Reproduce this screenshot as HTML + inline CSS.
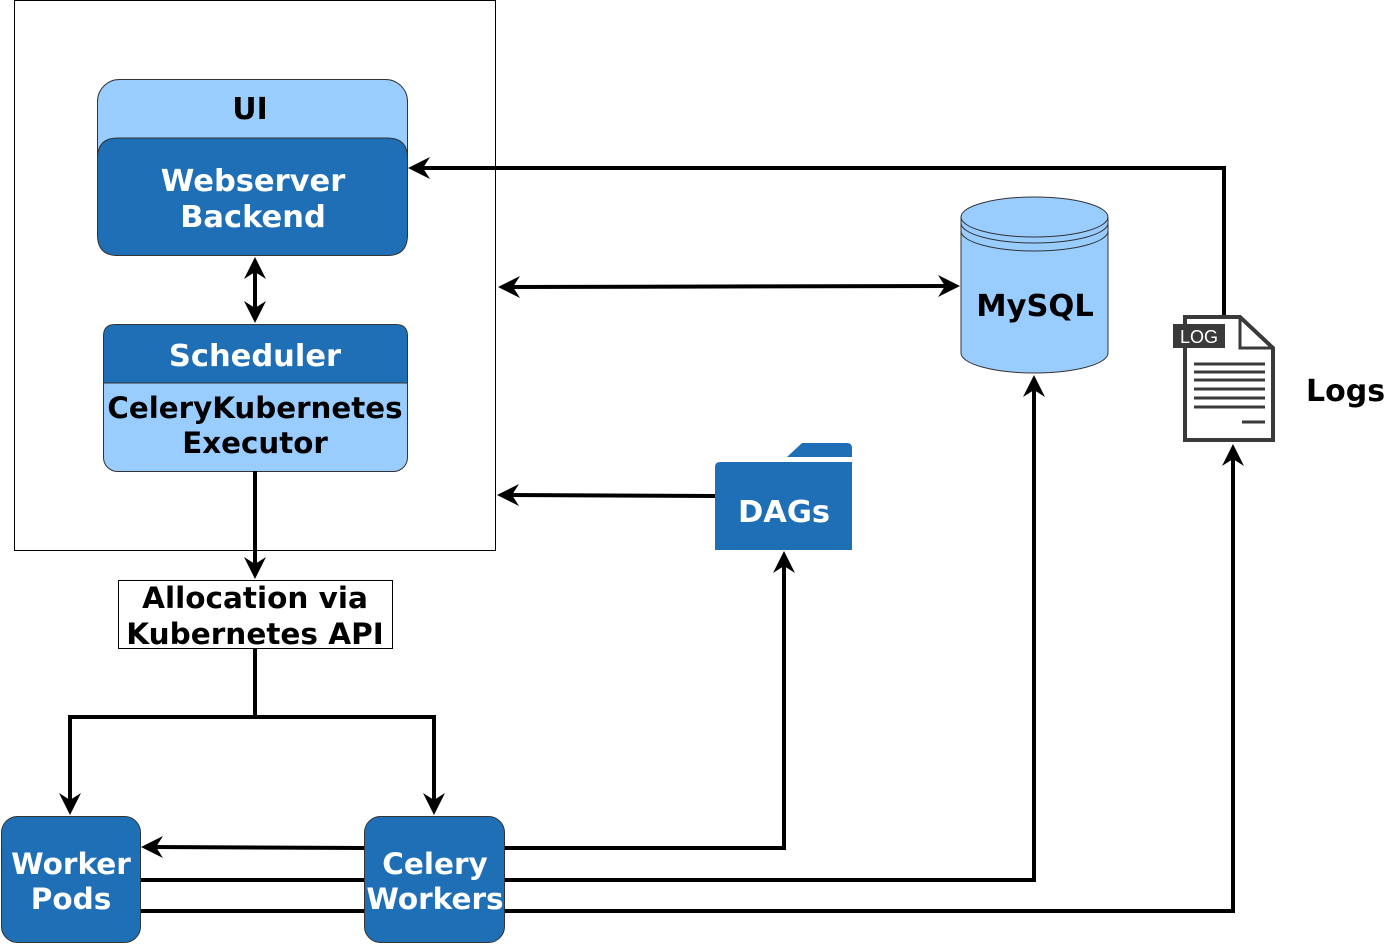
<!DOCTYPE html>
<html><head><meta charset="utf-8"><style>
html,body{margin:0;padding:0;background:#fff;}
svg{display:block;}
text{font-family:"DejaVu Sans","Liberation Sans",sans-serif;font-weight:bold;}
</style></head><body>
<svg width="1400" height="945" viewBox="0 0 1400 945" xmlns="http://www.w3.org/2000/svg">
<!-- outer box -->
<rect x="14.5" y="0.5" width="481" height="550" fill="#fff" stroke="#000" stroke-width="1"/>
<!-- UI -->
<rect x="97.5" y="79.5" width="310" height="176" rx="22" fill="#99ccff" stroke="#333" stroke-width="1"/>
<path d="M97.5 158 Q97.5 138 117.5 138 L387.5 138 Q407.5 138 407.5 158 L407.5 235 Q407.5 255.5 387.5 255.5 L117.5 255.5 Q97.5 255.5 97.5 235 Z" fill="#1f6fb6" stroke="#333" stroke-width="1"/>
<text x="250" y="119" font-size="30" text-anchor="middle" fill="#000">UI</text>
<text x="253" y="191" font-size="30.5" text-anchor="middle" fill="#fff">Webserver</text>
<text x="253" y="227" font-size="30.5" text-anchor="middle" fill="#fff">Backend</text>
<!-- Scheduler -->
<rect x="103.5" y="324.5" width="304" height="147" rx="14" fill="#99ccff" stroke="#333" stroke-width="1"/>
<path d="M103.5 383 L103.5 336 Q103.5 324.5 115 324.5 L396 324.5 Q407.5 324.5 407.5 336 L407.5 383 Z" fill="#1f6fb6" stroke="#333" stroke-width="1"/>
<text x="255" y="366" font-size="30.5" text-anchor="middle" fill="#fff">Scheduler</text>
<text x="255" y="418" font-size="29.3" text-anchor="middle" fill="#000">CeleryKubernetes</text>
<text x="255" y="453" font-size="29.3" text-anchor="middle" fill="#000">Executor</text>
<!-- lines -->
<g stroke="#000" stroke-width="4" fill="none">
<line x1="255" y1="266" x2="255" y2="314"/>
<line x1="255" y1="471" x2="255" y2="568"/>
<line x1="255" y1="648" x2="255" y2="717"/>
<polyline points="70,805 70,717 434,717 434,805"/>
<line x1="508" y1="287" x2="950" y2="286"/>
<line x1="715" y1="496" x2="507" y2="495"/>
<polyline points="1224,315 1224,168 418,168"/>
<line x1="364" y1="848" x2="152" y2="847"/>
<polyline points="504,848 784,848 784,561"/>
<polyline points="140,880 1034,880 1034,385"/>
<polyline points="140,911 1233,911 1233,454"/>
</g>
<!-- arrowheads -->
<g fill="#000">
<polygon points="255,257 244,279 255,272 266,279"/>
<polygon points="255,323 244,301 255,308 266,301"/>
<polygon points="255,579 244,557 255,564 266,557"/>
<polygon points="70,815 59,793 70,800 81,793"/>
<polygon points="434,815 423,793 434,800 445,793"/>
<polygon points="498,287 520,276 513,287 520,298"/>
<polygon points="960,286 938,275 945,286 938,297"/>
<polygon points="497,495 519,484 512,495 519,506"/>
<polygon points="408,168 430,157 423,168 430,179"/>
<polygon points="141,847 163,836 156,847 163,858"/>
<polygon points="784,551 773,573 784,566 795,573"/>
<polygon points="1034,375 1023,397 1034,390 1045,397"/>
<polygon points="1233,444 1222,466 1233,459 1244,466"/>
</g>
<!-- allocation -->
<rect x="118.5" y="580.5" width="274" height="68" fill="#fff" stroke="#000" stroke-width="1"/>
<text x="255" y="608" font-size="29.5" text-anchor="middle">Allocation via</text>
<text x="255" y="644" font-size="29.5" text-anchor="middle">Kubernetes API</text>
<!-- worker pods / celery -->
<rect x="1.5" y="816.5" width="139" height="126" rx="16" fill="#1f6fb6" stroke="#333" stroke-width="1"/>
<text x="71" y="874" font-size="29.5" text-anchor="middle" fill="#fff">Worker</text>
<text x="71" y="909" font-size="29.5" text-anchor="middle" fill="#fff">Pods</text>
<rect x="364.5" y="816.5" width="140" height="126" rx="16" fill="#1f6fb6" stroke="#333" stroke-width="1"/>
<text x="435" y="874" font-size="29.5" text-anchor="middle" fill="#fff">Celery</text>
<text x="435" y="909" font-size="29.5" text-anchor="middle" fill="#fff">Workers</text>
<!-- DAGs folder -->
<path d="M787 457 L802 443 L847 443 Q852 443 852 448 L852 457 Z" fill="#1f6fb6"/>
<path d="M715 467 Q715 462 720 462 L852 462 L852 550 L715 550 Z" fill="#1f6fb6"/>
<text x="784" y="522" font-size="30.5" text-anchor="middle" fill="#fff">DAGs</text>
<!-- MySQL -->
<path d="M961 217 L961 353 A73.5 20 0 0 0 1108 353 L1108 217" fill="#99ccff" stroke="#333" stroke-width="1"/>
<ellipse cx="1034.5" cy="217" rx="73.5" ry="20" fill="#99ccff" stroke="#333" stroke-width="1"/>
<path d="M961 223 A73.5 20 0 0 0 1108 223 M961 231 A73.5 20 0 0 0 1108 231" fill="none" stroke="#333" stroke-width="1"/>
<text x="1035" y="316" font-size="30.5" text-anchor="middle">MySQL</text>
<!-- Log icon -->
<path d="M1185 317 L1240 317 L1273 348 L1273 440 L1185 440 Z" fill="#fff" stroke="#3a3a3a" stroke-width="4"/>
<path d="M1240 317 L1240 348 L1273 348" fill="none" stroke="#3a3a3a" stroke-width="3"/>
<rect x="1173" y="324" width="52" height="24" fill="#3a3a3a"/>
<text x="1199" y="343" font-size="18" text-anchor="middle" fill="#fff" style="font-weight:normal;font-family:'Liberation Sans',sans-serif">LOG</text>
<g stroke="#3a3a3a" stroke-width="3">
<line x1="1194" y1="364" x2="1265" y2="364"/>
<line x1="1194" y1="372" x2="1265" y2="372"/>
<line x1="1194" y1="380" x2="1265" y2="380"/>
<line x1="1194" y1="389" x2="1265" y2="389"/>
<line x1="1194" y1="398" x2="1265" y2="398"/>
<line x1="1194" y1="407" x2="1265" y2="407"/>
<line x1="1242" y1="422" x2="1265" y2="422"/>
</g>
<text x="1306" y="401" font-size="30">Logs</text>
</svg>
</body></html>
